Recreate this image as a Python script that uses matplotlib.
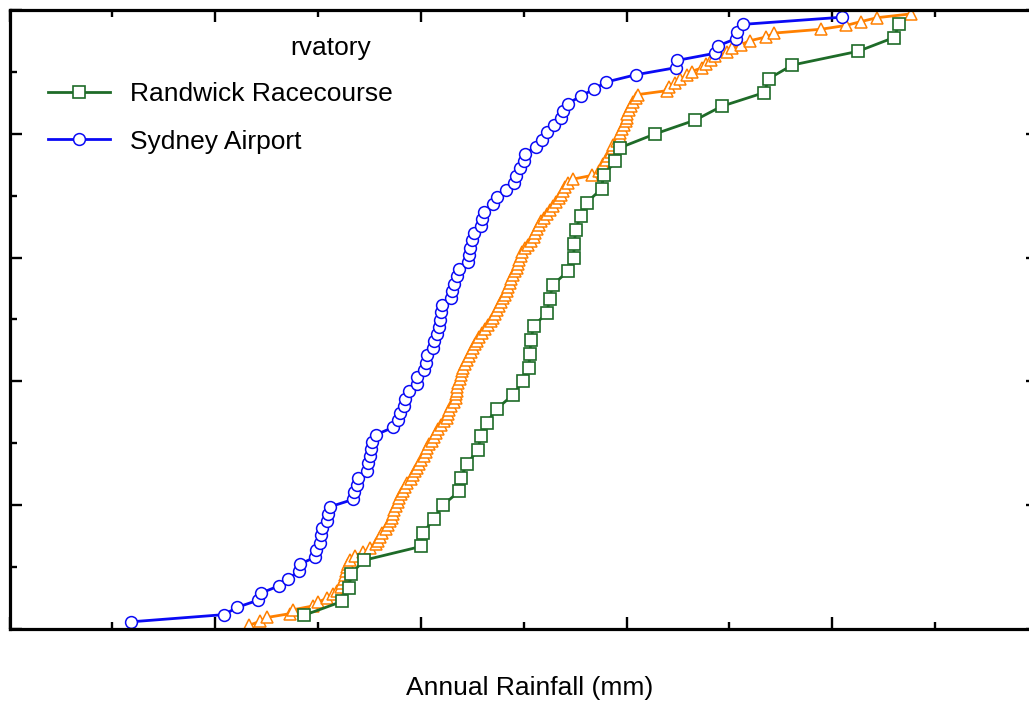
import numpy as np
import matplotlib
matplotlib.use("Agg")
import matplotlib.pyplot as plt
from matplotlib.ticker import MultipleLocator

plt.rcParams["font.family"] = ["Liberation Sans", "DejaVu Sans"]

# annual rainfall totals (mm), sorted
randwick = [
    716, 808, 825, 830, 862, 1000, 1005, 1032, 1053, 1093, 1097, 1112, 1138,
    1146, 1160, 1184, 1223, 1248, 1262, 1265, 1267, 1274, 1306, 1313, 1320,
    1357, 1371, 1373, 1376, 1388, 1403, 1439, 1444, 1473, 1485, 1570, 1667,
    1731, 1835, 1845, 1903, 2063, 2150, 2163,
]

airport = [
    296, 522, 553, 604, 612, 655, 677, 704, 706, 743, 745, 755, 757, 760,
    772, 774, 780, 835, 837, 845, 847, 869, 871, 876, 879, 881, 891, 932,
    944, 949, 959, 961, 971, 990, 991, 1007, 1012, 1015, 1029, 1032, 1039,
    1044, 1046, 1049, 1051, 1073, 1075, 1080, 1087, 1092, 1114, 1117, 1119,
    1124, 1129, 1146, 1148, 1153, 1175, 1184, 1206, 1226, 1231, 1240, 1250,
    1252, 1279, 1294, 1306, 1323, 1340, 1345, 1357, 1388, 1420, 1451, 1522,
    1621, 1623, 1716, 1721, 1765, 1769, 1782, 2024,
]

observatory = [
    583, 609, 626, 682, 689, 738, 750, 772, 786, 796, 806, 808, 813, 816,
    818, 820, 823, 828, 840, 859, 876, 891, 896, 900, 905, 915, 920, 925,
    930, 932, 934, 939, 944, 947, 951, 956, 961, 966, 976, 981, 985, 990,
    995, 1000, 1007, 1012, 1015, 1019, 1027, 1032, 1036, 1041, 1049, 1056,
    1063, 1066, 1068, 1073, 1080, 1085, 1086, 1087, 1088, 1090, 1095, 1097,
    1100, 1102, 1107, 1112, 1117, 1121, 1126, 1131, 1136, 1141, 1148, 1155,
    1163, 1170, 1175, 1180, 1184, 1189, 1194, 1199, 1204, 1209, 1211, 1216,
    1218, 1223, 1228, 1233, 1235, 1238, 1243, 1245, 1252, 1260, 1267, 1274,
    1277, 1282, 1286, 1291, 1299, 1306, 1313, 1320, 1328, 1335, 1340, 1345,
    1350, 1357, 1369, 1417, 1434, 1439, 1442, 1449, 1456, 1461, 1466, 1468,
    1476, 1483, 1485, 1488, 1493, 1498, 1500, 1502, 1505, 1510, 1515, 1522,
    1527, 1597, 1604, 1617, 1629, 1646, 1658, 1684, 1694, 1706, 1714, 1745,
    1755, 1779, 1799, 1840, 1859, 1973, 2034, 2070, 2109, 2192,
]


def plotting_positions(values):
    v = np.sort(np.asarray(values, dtype=float))
    p = np.arange(1, len(v) + 1) / (len(v) + 1.0)
    return v, p


W, H = 1029, 702
fig = plt.figure(figsize=(W / 100, H / 100), dpi=100)
# axes run past the right edge of the canvas, as in the reference
ax = fig.add_axes([9.5 / W, 73 / H, 1028.5 / W, 619 / H])

green = "#1e6b28"
blue = "#0a0af5"
orange = "#ff8000"

x, p = plotting_positions(observatory)
ax.plot(x, p, color=orange, lw=2.0, marker="^", ms=8.8, mfc="white",
        mec=orange, mew=1.1)

x, p = plotting_positions(randwick)
ax.plot(x, p, color=green, lw=2.0, marker="s", ms=9.0, mfc="white",
        mec=green, mew=1.2, label="Randwick Racecourse")

x, p = plotting_positions(airport)
ax.plot(x, p, color=blue, lw=2.0, marker="o", ms=8.5, mfc="white",
        mec=blue, mew=1.1, label="Sydney Airport")

ax.set_xlim(0, 2500)
ax.set_ylim(0, 1)
ax.xaxis.set_major_locator(MultipleLocator(500))
ax.xaxis.set_minor_locator(MultipleLocator(250))
ax.yaxis.set_major_locator(MultipleLocator(0.2))
ax.yaxis.set_minor_locator(MultipleLocator(0.1))
ax.tick_params(which="both", direction="in", top=True, right=True,
               labelbottom=False, labelleft=False, width=1.7)
ax.tick_params(which="major", length=8.6)
ax.tick_params(which="minor", length=5)
for s in ax.spines.values():
    s.set_linewidth(2.3)

leg = ax.legend(loc="upper left", bbox_to_anchor=(0.0374, 0.883),
                frameon=False, fontsize=19, handlelength=2.35,
                handletextpad=0.76, labelspacing=0.88, borderaxespad=0,
                borderpad=0)
ax.text(0.2727, 0.939, "rvatory", transform=ax.transAxes, fontsize=19,
        ha="left", va="center")

fig.text(530 / W, 1 - 688 / H, "Annual Rainfall (mm)", ha="center",
         va="center", fontsize=19)

fig.savefig("out.png", dpi=100)
